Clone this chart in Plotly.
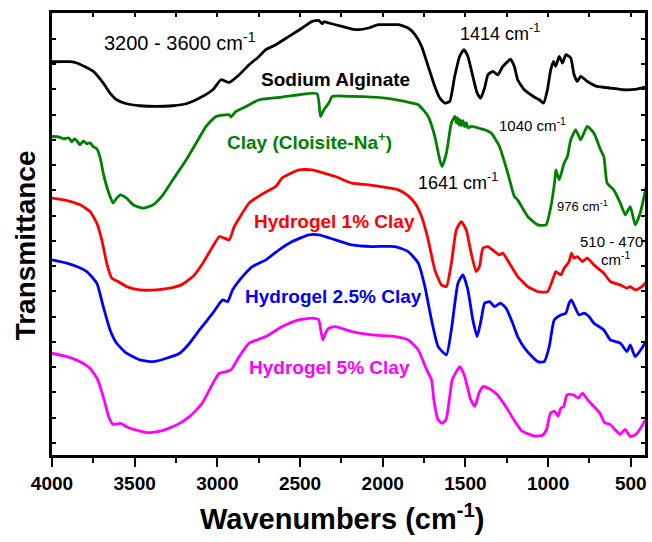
import plotly.graph_objects as go

# ---- data (wavenumber in cm^-1, transmittance in arbitrary offset units) ----
sa_wn = [4000, 3890, 3850, 3750, 3690, 3649, 3609, 3549, 3469, 3369, 3269, 3188, 3108, 3028, 2978, 2948, 2928, 2868, 2808, 2748,
         2707, 2647, 2567, 2487, 2427, 2387, 2365, 2355, 2326, 2246, 2186, 2146, 2086, 2026, 1966, 1905, 1846, 1805, 1765, 1725,
         1685, 1655, 1625, 1595, 1565, 1535, 1509, 1485, 1455, 1429, 1408, 1384, 1364, 1334, 1304, 1274, 1244, 1228, 1204, 1184,
         1144, 1104, 1074, 1053, 1027, 1004, 984, 967, 954, 933, 913, 893, 863, 843, 823, 803, 763, 703, 623, 543, 463, 413]
sa_t = [393, 393, 391.7, 383.3, 371.7, 361.7, 355, 351, 349, 348.3, 349, 351, 356.7, 365, 375, 373.3, 372.3, 380, 390, 398.3,
        405, 410, 418.3, 426.7, 433.3, 434.3, 431, 433, 431.7, 428.3, 425.7, 425, 426.7, 430, 430, 430, 426.7, 420, 408.3, 388.3,
        368.3, 356.7, 351.7, 353.3, 378.3, 398.3, 405, 398.3, 378.3, 361.7, 356.7, 366.7, 380, 383.3, 380, 388.3, 393.3, 395.7, 388.3, 375,
        365, 360, 356.7, 355, 351.7, 365, 385, 393.3, 388.3, 398.3, 391.7, 400, 396.7, 380, 373.3, 378.3, 373.3, 368.3, 366.7, 365, 365.7, 367.7]

clay_wn = [4000, 3960, 3930, 3900, 3880, 3865, 3850, 3830, 3810, 3790, 3770, 3750, 3729, 3710, 3690, 3669, 3649, 3630, 3609, 3585,
           3549, 3509, 3449, 3389, 3329, 3269, 3188, 3128, 3068, 3008, 2928, 2918, 2888, 2827, 2747, 2607, 2507, 2397, 2376, 2356,
           2326, 2306, 2186, 1985, 1865, 1785, 1725, 1685, 1655, 1641, 1615, 1585, 1564, 1555, 1548, 1540, 1532, 1525, 1515, 1505,
           1495, 1485, 1465, 1384, 1344, 1294, 1244, 1204, 1184, 1123, 1063, 1013, 983, 959, 953, 933, 903, 883, 863, 833,
           803, 763, 723, 683, 663, 643, 603, 563, 533, 503, 473, 443, 407]
clay_t = [318.3, 318, 316, 317, 313, 316, 314, 310, 314, 311, 312, 308, 306, 298, 281.7, 268.3, 258.3, 251.7, 256.7, 260,
          256.7, 250, 246.7, 250, 260, 275, 295, 311.7, 328.3, 338.3, 340, 337.7, 343.3, 348.3, 355, 357.7, 360, 361, 338.3, 345,
          351.7, 358.3, 358.3, 356.7, 353.3, 350, 338.3, 318.3, 295, 288.3, 301.7, 331.7, 338.3, 332, 337, 330, 335, 329, 334, 328,
          332, 327, 328.3, 325, 321.7, 308.3, 281.7, 258.3, 255, 238.3, 230, 230, 248.3, 275, 285, 275, 291.7, 298.3, 315, 325,
          315, 328.3, 321.7, 305, 298.3, 271.7, 265, 251.7, 240, 248.3, 230, 241.7, 268.3]

h1_wn = [4000, 3910, 3830, 3770, 3729, 3699, 3669, 3639, 3600, 3549, 3469, 3369, 3289, 3218, 3148, 3088, 3028, 2988, 2958, 2928,
         2898, 2868, 2808, 2727, 2647, 2607, 2507, 2427, 2356, 2286, 2186, 2086, 1985, 1905, 1846, 1805, 1765, 1725, 1685, 1645,
         1615, 1585, 1555, 1525, 1495, 1465, 1435, 1415, 1394, 1364, 1324, 1294, 1274, 1234, 1184, 1123, 1063, 1003, 973, 953,
         923, 903, 873, 859, 843, 823, 793, 763, 723, 663, 623, 563, 523, 503, 473, 433, 403]
h1_t = [256.7, 254.3, 250, 243.3, 231.7, 215, 191.7, 176.7, 173.3, 168.3, 165, 165, 166.7, 170, 178.3, 191.7, 208.3, 218.3, 216.7, 215,
        228.3, 236.7, 251.7, 261, 268.3, 277, 285, 285, 281.7, 278.3, 271.7, 270, 267.5, 265, 259, 251.7, 238.3, 215, 185, 170,
        168.3, 191.7, 225, 233.3, 225, 201.7, 183.3, 188.3, 206.7, 208.3, 203.3, 200, 201.7, 191.7, 178.3, 168.3, 163.3, 163.3, 175, 183.3,
        180, 186.7, 193.3, 201.7, 196.7, 198.3, 193.3, 196.7, 190, 181.7, 173.3, 170, 166.7, 168.3, 165, 168.3, 173.3]

h25_wn = [4000, 3910, 3850, 3790, 3729, 3690, 3649, 3609, 3549, 3469, 3389, 3308, 3228, 3168, 3108, 3028, 2968, 2938, 2908, 2848,
          2788, 2707, 2627, 2547, 2447, 2387, 2286, 2186, 2066, 1925, 1846, 1785, 1745, 1705, 1665, 1615, 1585, 1545, 1515, 1485,
          1455, 1429, 1405, 1384, 1354, 1324, 1288, 1254, 1214, 1184, 1134, 1063, 1023, 993, 963, 923, 893, 873, 859, 839,
          813, 783, 753, 723, 663, 623, 563, 523, 503, 473, 433, 403]
h25_t = [195, 191.7, 188.3, 183.3, 171.7, 148.3, 125, 111.7, 101.7, 95, 93.3, 96.7, 101.7, 111.7, 125, 141.7, 155, 153.3, 165, 178.3,
         188.3, 195, 205, 213.3, 220, 220, 215, 210, 208.3, 208.3, 203.3, 191.7, 168.3, 135, 108.3, 100, 125, 171.7, 180, 165,
         135, 118.3, 135, 151.7, 153.3, 148.3, 151.7, 146.7, 131.7, 118.3, 105, 93.3, 93.3, 108.3, 135, 140, 141.7, 151.7, 155, 148.3,
         140, 141.7, 138.3, 131.7, 125, 115, 111.7, 103.3, 110, 98.3, 106.7, 115]

h5_wn = [4000, 3910, 3830, 3770, 3723, 3685, 3655, 3631, 3586, 3537, 3425, 3339, 3239, 3165, 3091, 3016, 2988, 2948, 2918, 2868,
         2808, 2707, 2607, 2507, 2427, 2387, 2375, 2362, 2346, 2326, 2286, 2186, 2066, 1925, 1846, 1785, 1734, 1705, 1691, 1666,
         1641, 1617, 1592, 1580, 1534, 1505, 1468, 1443, 1418, 1394, 1344, 1307, 1257, 1208, 1158, 1084, 1034, 1009, 985, 960,
         940, 923, 905, 886, 848, 816, 792, 762, 688, 658, 626, 564, 534, 502, 469, 427, 414]
h5_t = [101.7, 98.3, 93.3, 86.7, 75, 55.3, 37.2, 30.6, 31.6, 27.3, 22.4, 24, 30.6, 38.8, 52, 75, 81.7, 83.3, 85, 98.3,
        111.7, 118.3, 128.3, 135, 136.7, 135, 125, 115, 121.7, 126.7, 128.3, 123.3, 120, 118.3, 115, 105, 85, 75, 55.3, 35.5,
        31.6, 35.5, 62, 75, 88.3, 79, 55.3, 48.7, 61.8, 68.4, 65.1, 60.2, 48.7, 35.5, 24, 19, 19.7, 25.6, 42.1, 43.7,
        38.8, 47, 48.7, 60.2, 60.2, 56.9, 61.8, 55.3, 42.1, 32.2, 30.6, 20.7, 25.6, 18.4, 20.7, 30.6, 35]

series_names = ["Sodium Alginate", "Clay (Cloisite-Na+)", "Hydrogel 1% Clay", "Hydrogel 2.5% Clay", "Hydrogel 5% Clay"]
series_x = [sa_wn, clay_wn, h1_wn, h25_wn, h5_wn]
series_y = [sa_t, clay_t, h1_t, h25_t, h5_t]
colors = ["#000000", "#008000", "#FF0000", "#0000FF", "#FF00FF"]

x_tick_vals = [4000, 3500, 3000, 2500, 2000, 1500, 1000, 500]
x_tick_text = ["4000", "3500", "3000", "2500", "2000", "1500", "1000", "500"]

FONT = "Arial, Liberation Sans, Helvetica, sans-serif"

fig = go.Figure()
for name, xs, ys, c in zip(series_names, series_x, series_y, colors):
    fig.add_trace(go.Scatter(x=xs, y=ys, mode="lines", name=name,
                             line=dict(color=c, width=2.8, shape="spline", smoothing=0.5),
                             showlegend=False))
# helper trace so the top (mirror) axis is drawn
fig.add_trace(go.Scatter(x=[None], y=[None], xaxis="x2", showlegend=False, hoverinfo="skip"))

X_RANGE = [4000, 414]
fig.update_layout(
    width=652, height=542,
    margin=dict(l=52, r=4, t=13, b=87),
    paper_bgcolor="white", plot_bgcolor="white",
    font=dict(family=FONT, color="black"),
    xaxis=dict(range=X_RANGE, tickvals=x_tick_vals, ticktext=x_tick_text,
               ticks="outside", ticklen=9, tickwidth=2, tickcolor="black",
               minor=dict(dtick=250, tick0=0, ticks="outside", ticklen=5, tickwidth=2, tickcolor="black"),
               showline=True, linewidth=2.5, linecolor="black", mirror=True,
               showgrid=False, zeroline=False,
               tickfont=dict(family=FONT, size=19, color="black", weight="bold")),
    xaxis2=dict(range=X_RANGE, overlaying="x", side="top", anchor="y",
                dtick=250, tick0=0, ticks="inside", ticklen=4, tickwidth=1.5, tickcolor="black",
                showticklabels=False, showline=False, showgrid=False, zeroline=False),
    yaxis=dict(range=[0, 441.7], tick0=12, dtick=25.25, ticks="inside", ticklen=4,
               tickwidth=1.5, tickcolor="black", showticklabels=False,
               showline=True, linewidth=2.5, linecolor="black", mirror="ticks",
               showgrid=False, zeroline=False),
)

def ann(text, x, y, size, color="black", bold=False):
    fig.add_annotation(text=text, x=x, y=y, xref="x", yref="y", showarrow=False,
                       xanchor="center", yanchor="middle",
                       font=dict(family=FONT, size=size, color=color,
                                 weight="bold" if bold else "normal"))

ann("3200 - 3600 cm<sup>-1</sup>", 3228, 413, 20)
ann("Sodium Alginate", 2285, 375, 19, "#000000", True)
ann("1414 cm<sup>-1</sup>", 1290, 422, 18)
ann("Clay (Cloisite-Na<sup>+</sup>)", 2440, 314, 19, "#008000", True)
ann("1040 cm<sup>-1</sup>", 1094, 330, 15)
ann("1641 cm<sup>-1</sup>", 1545, 273, 18)
ann("976 cm<sup>-1</sup>", 793, 249, 13)
ann("510 - 470", 615, 213, 15)
ann("cm<sup>-1</sup>", 590, 196, 15)
ann("Hydrogel 1% Clay", 2291, 233, 19, "#FF0000", True)
ann("Hydrogel 2.5% Clay", 2297, 158, 19, "#0000FF", True)
ann("Hydrogel 5% Clay", 2321, 87, 19, "#FF00FF", True)

# axis titles
fig.add_annotation(text="Wavenumbers (cm<sup>-1</sup>)", x=0.49, y=-0.14, xref="paper", yref="paper",
                   showarrow=False, xanchor="center", yanchor="middle",
                   font=dict(family=FONT, size=29, color="black", weight="bold"))
fig.add_annotation(text="Transmittance", x=-0.045, y=0.475, xref="paper", yref="paper",
                   showarrow=False, xanchor="center", yanchor="middle", textangle=-90,
                   font=dict(family=FONT, size=28, color="black", weight="bold"))

fig.write_html("out.html")
